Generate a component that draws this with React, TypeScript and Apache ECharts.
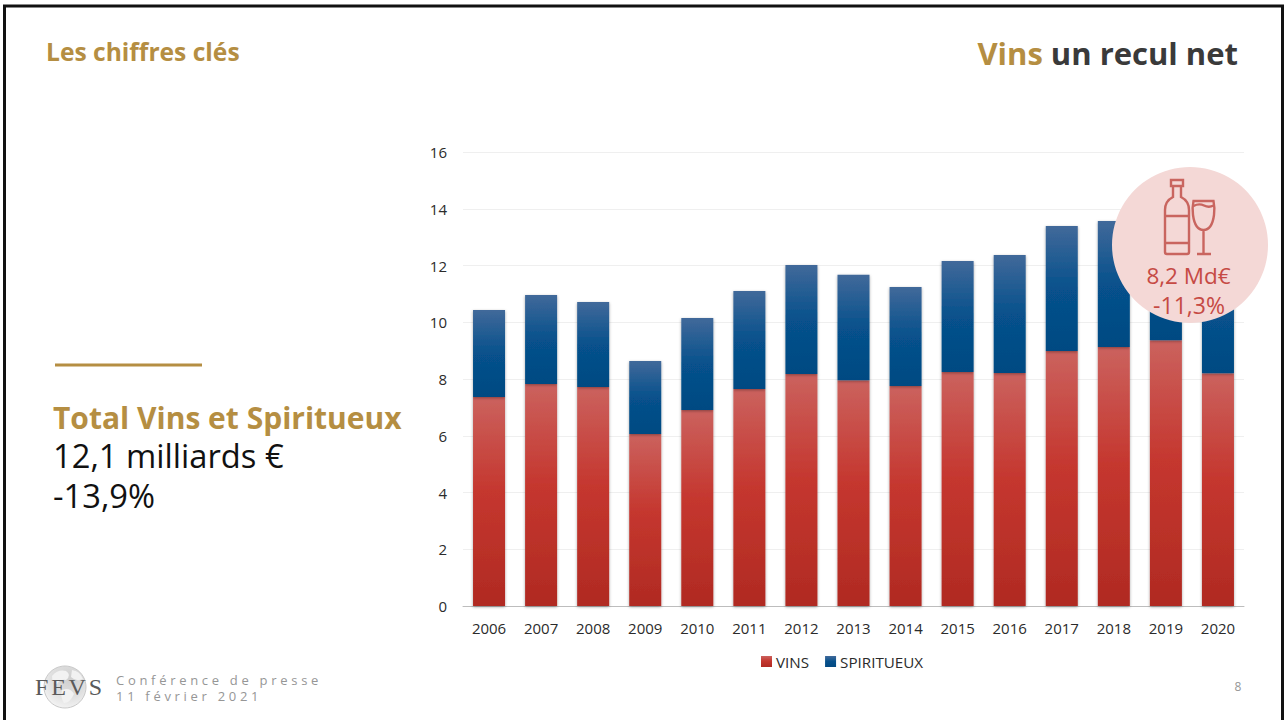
import React, { useEffect, useRef } from "react";
import * as echarts from "echarts";

const years = ["2006","2007","2008","2009","2010","2011","2012","2013","2014","2015","2016","2017","2018","2019","2020"];
const vins = [7.37,7.82,7.72,6.06,6.91,7.65,8.18,7.96,7.75,8.25,8.21,8.99,9.13,9.37,8.2];
const spiritueux = [3.06,3.14,2.99,2.57,3.24,3.45,3.84,3.71,3.49,3.91,4.16,4.4,4.44,4.68,3.9];
const yTicks = { min: 0, max: 16, interval: 2 };

const GOLD = "#B58E42";
const FONT = "'Open Sans', sans-serif";
const bottlePath = "M1171 180 L1183 180 L1183 186 L1171 186 Z M1173 186 L1173 197 Q1165 201 1165 210 L1165 252 Q1165 254 1167 254 L1187 254 Q1189 254 1189 252 L1189 210 Q1189 201 1181 197 L1181 186 M1165 216 L1189 216 M1165 243 L1189 243";
const glassPath = "M1193.5 201 L1213.5 201 Q1215 208 1214 215 Q1212 230 1203.5 230 Q1195 230 1193 215 Q1192 208 1193.5 201 Z M1193.5 206 Q1199 203 1204 205.5 Q1209 208 1213.5 205.5 M1203.5 230 L1203.5 254 M1197 254 L1211 254";
const landPath = "M52 676 Q58 669 66 671 Q72 675 66 680 Q60 679 57 684 Q52 684 52 676 Z M72 670 Q80 671 83 679 Q76 682 71 677 Z M62 690 Q70 687 74 694 Q70 703 64 703 Q60 697 62 690 Z";

echarts.graphic.registerShape("bottleIcon", echarts.graphic.extendPath(bottlePath, {}) as any);
echarts.graphic.registerShape("glassIcon", echarts.graphic.extendPath(glassPath, {}) as any);
echarts.graphic.registerShape("globeLand", echarts.graphic.extendPath(landPath, {}) as any);

const grad = (stops: [number, string][]) =>
  new echarts.graphic.LinearGradient(0, 0, 0, 1, stops.map(([offset, color]) => ({ offset, color })));

const txt = (x: number, y: number, text: string, fontSize: number, fill: string, extra: any = {}) => ({
  type: "text", x, y, z: 20,
  style: { text, fontSize, fill, fontFamily: FONT, textVerticalAlign: "middle", ...extra },
});

export default function App() {
  const ref = useRef<HTMLDivElement>(null);
  useEffect(() => {
    document.body.style.margin = "0";
    const chart = echarts.init(ref.current!, undefined, { renderer: "svg" });
    chart.setOption({
      animation: false,
      backgroundColor: "#fff",
      grid: { left: 463, top: 152, width: 781, height: 454 },
      legend: {
        left: 761, top: 654, padding: 0, icon: "rect", itemWidth: 11, itemHeight: 11, itemGap: 16,
        textStyle: { fontSize: 15.2, color: "#2b2b2b", fontFamily: FONT, padding: [0, 0, 0, -1] },
        data: ["VINS", "SPIRITUEUX"],
      },
      xAxis: {
        type: "category", data: years,
        axisLine: { lineStyle: { color: "#bdbdbd", width: 1 } },
        axisTick: { show: false },
        axisLabel: { fontSize: 15, color: "#2b2b2b", fontFamily: FONT, margin: 14 },
      },
      yAxis: {
        type: "value", ...yTicks,
        axisLine: { show: false }, axisTick: { show: false },
        splitLine: { lineStyle: { color: "#efefef", width: 1 } },
        axisLabel: { fontSize: 15, color: "#2b2b2b", fontFamily: FONT, margin: 16 },
      },
      series: [
        {
          name: "VINS", type: "bar", stack: "t", data: vins, barWidth: 32,
          itemStyle: {
            color: grad([[0, "#CB625E"], [0.45, "#C5372F"], [1, "#B02A22"]]),
            shadowColor: "rgba(0,0,0,0.35)", shadowBlur: 3, shadowOffsetY: 1,
          },
        },
        {
          name: "SPIRITUEUX", type: "bar", stack: "t", data: spiritueux, barWidth: 32,
          itemStyle: {
            color: grad([[0, "#41699A"], [0.5, "#07518C"], [1, "#034A82"]]),
            shadowColor: "rgba(0,0,0,0.35)", shadowBlur: 3, shadowOffsetY: 1,
          },
        },
      ],
      graphic: [
        { type: "rect", z: -1, silent: true, shape: { x: 4.5, y: 6, width: 1278, height: 716 },
          style: { fill: "none", stroke: "#111", lineWidth: 3 } },
        txt(46, 51, "Les chiffres clés", 24.6, GOLD, { fontWeight: "bold" }),
        txt(1238, 53, "{a|Vins} {b|un recul net}", 31, "#333", {
          textAlign: "right",
          rich: {
            a: { fontSize: 31, fontWeight: "bold", fill: GOLD, fontFamily: FONT },
            b: { fontSize: 31, fontWeight: "bold", fill: "#3a3a3a", fontFamily: FONT },
          },
        }),
        { type: "line", shape: { x1: 55, y1: 365, x2: 202, y2: 365 }, style: { stroke: GOLD, lineWidth: 3 } },
        {
          type: "text", x: 53, y: 398, z: 20,
          style: {
            text: "{t|Total Vins et Spiritueux}\n{v|12,1 milliards €}\n{v|-13,9%}",
            fontFamily: FONT, textVerticalAlign: "top",
            rich: {
              t: { fontSize: 30, fontWeight: "bold", fill: GOLD, fontFamily: FONT, lineHeight: 38 },
              v: { fontSize: 32.7, fill: "#111", fontFamily: FONT, lineHeight: 39.5 },
            },
          },
        },
        { type: "circle", z: 10, shape: { cx: 1190, cy: 245, r: 78 }, style: { fill: "#F4D8D6" } },
        { type: "bottleIcon", z: 11, style: { fill: "none", stroke: "#C9655F", lineWidth: 2.4 } },
        { type: "glassIcon", z: 11, style: { fill: "none", stroke: "#C9655F", lineWidth: 2.4 } },
        txt(1188.5, 275.5, "8,2 Md€", 22.5, "#C64A44", { textAlign: "center" }),
        txt(1189, 304.5, "-11,3%", 23, "#C64A44", { textAlign: "center" }),
        { type: "circle", z: 5, shape: { cx: 65, cy: 687, r: 21 },
          style: {
            fill: new echarts.graphic.RadialGradient(0.6, 0.3, 0.8, [
              { offset: 0, color: "#cfcfcf" }, { offset: 0.55, color: "#e0e0e0" }, { offset: 1, color: "#f8f8f8" },
            ]),
            stroke: "#c9c9c9", lineWidth: 1,
          } },
        { type: "globeLand", z: 5, style: { fill: "#f2f2f2" } },
        { type: "text", x: 35, y: 687, z: 6, style: { text: "FEVS", fontSize: 24, fill: "#5a5a5a", fontFamily: "'Liberation Serif', serif", textVerticalAlign: "middle" } },
        txt(116, 680, "Conférence de presse", 13, "#969696"),
        txt(116, 696, "11 février 2021", 13, "#969696"),
        txt(1238, 686, "8", 12, "#969696", { textAlign: "center" }),
      ],
    });
    ref.current!.querySelectorAll("text").forEach((t) => {
      const s = t.textContent || "";
      if (s === "Conférence de presse" || s === "11 février 2021") t.setAttribute("letter-spacing", "3.7");
      if (s === "FEVS") t.setAttribute("letter-spacing", "2.8");
    });
    return () => chart.dispose();
  }, []);
  return <div ref={ref} style={{ width: 1287, height: 720 }} />;
}
